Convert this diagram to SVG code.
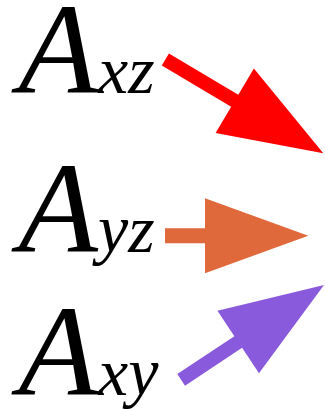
<svg xmlns="http://www.w3.org/2000/svg" width="325" height="409" viewBox="0 0 325 409">
<style>
.lbl{font-family:"Liberation Serif","Times New Roman",serif;font-style:italic;fill:#000}
.big{font-size:130px}
.sub{font-size:68px}
</style>
<rect width="325" height="409" fill="#fff"/>
<g id="node-axz"><text class="lbl" x="18.6" y="93"><tspan class="big">A</tspan><tspan class="sub">xz</tspan></text></g>
<g id="node-ayz"><text class="lbl" x="18.6" y="252"><tspan class="big">A</tspan><tspan class="sub">yz</tspan></text></g>
<g id="node-axy"><text class="lbl" x="18.6" y="395"><tspan class="big">A</tspan><tspan class="sub">xy</tspan></text></g>
<g id="connectors">
<polygon fill="#ff0000" transform="translate(323.3,153.3) rotate(30.7)" points="-183.7,-7 -103,-7 -103,-37.5 0,0 -103,37.5 -103,7 -183.7,7"/>
<polygon fill="#df693b" transform="translate(308.3,235.8)" points="-143.3,-7.5 -103.3,-7.5 -103.3,-37.5 0,0 -103.3,37.5 -103.3,7.5 -143.3,7.5"/>
<polygon fill="#8a5add" transform="translate(324,285) rotate(-33.6)" points="-171.5,-7 -103,-7 -103,-37.5 0,0 -103,37.5 -103,7 -171.5,7"/>
</g>
</svg>
